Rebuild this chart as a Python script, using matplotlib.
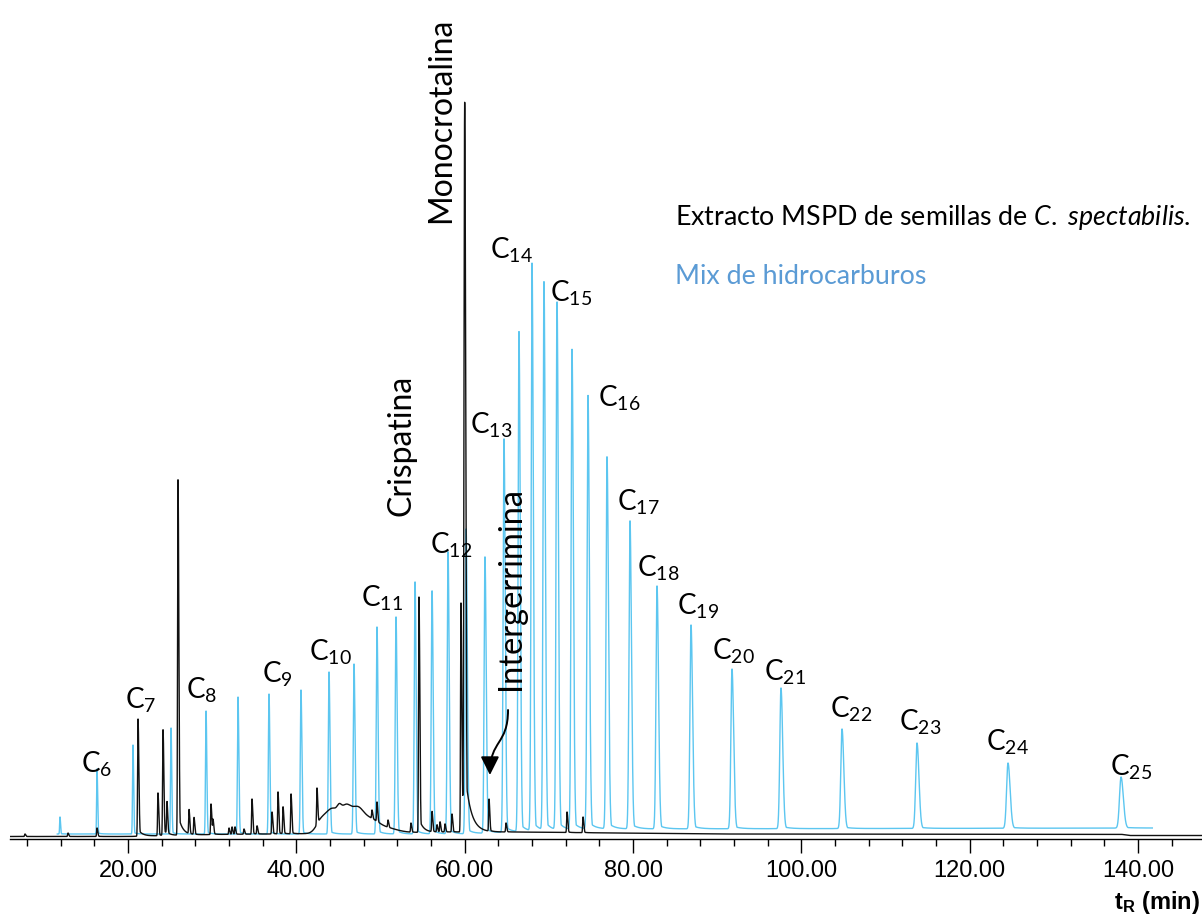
import numpy as np
import matplotlib.pyplot as plt
from matplotlib.patches import FancyArrowPatch
from matplotlib.path import Path

plt.rcParams['font.family'] = ['Lato', 'DejaVu Sans']
plt.rcParams['mathtext.fontset'] = 'custom'
plt.rcParams['mathtext.default'] = 'regular'
plt.rcParams['mathtext.rm'] = 'Lato'
plt.rcParams['mathtext.it'] = 'Lato:italic'

# --- datos leidos del cromatograma (tR en min, altura en unidades arbitrarias) ---
# extracto MSPD (traza negra)
black_t = [7.76, 12.87, 16.32, 21.19, 23.56, 24.16, 24.63, 25.94, 27.25, 27.84,
           29.86, 30.10, 32.00, 32.36, 32.71, 33.78, 34.73, 35.33, 37.11, 37.82,
           38.42, 39.37, 42.45, 48.99, 49.58, 50.89, 53.62, 54.57, 56.12, 56.71,
           57.07, 57.66, 58.49, 59.56, 60.00, 62.89, 64.91, 72.16, 74.06]
black_apex = [5, 6, 11, 120, 46, 109, 35, 359, 28, 21,
              35, 19, 11, 12, 12, 10, 40, 13, 27, 47,
              32, 45, 51, 29, 37, 19, 16, 242, 27, 14,
              17, 15, 25, 236, 731, 39, 16, 27, 22]
black_base_t = [6.0, 20.0, 30.0, 50.0, 58.0, 66.0, 90.0, 138.0, 139.0, 147.6]
black_base_h = [2.5, 2.5, 4.5, 6.0, 7.0, 7.0, 5.0, 4.7, 3.5, 3.5]
# joroba entre 42 y 51 min
hump_t = [42.9, 44.3, 45.1, 45.9, 47.2, 48.6, 50.5]
hump_h = [10, 24, 6, 22, 20, 12, 5]
hump_width = [0.6, 0.8, 0.25, 0.6, 0.7, 1.0, 1.4]

# mezcla de hidrocarburos (traza azul)
blue_t = [11.92, 16.32, 20.59, 25.11, 29.27, 33.07, 36.75, 40.55, 43.88, 46.85,
          49.58, 51.84, 54.10, 56.12, 58.02, 60.17, 62.41, 64.67, 66.45, 68.00,
          69.42, 70.97, 72.75, 74.65, 76.91, 79.64, 82.85, 86.89, 91.76, 97.58,
          104.83, 113.74, 124.55, 137.98]
blue_apex = [22, 70, 94, 111, 128, 142, 145, 149, 167, 175,
             212, 222, 257, 248, 287, 310, 282, 400, 507, 575,
             556, 536, 489, 443, 382, 318, 253, 214, 170, 151,
             110, 96, 76, 62]
blue_base_t = [11.6, 60.0, 66.0, 76.0, 141.7]
blue_base_h = [5.0, 5.0, 7.0, 10.0, 11.0]

# etiquetas de los n-alcanos
alk_labels = ['C$_{6}$', 'C$_{7}$', 'C$_{8}$', 'C$_{9}$', 'C$_{10}$', 'C$_{11}$',
              'C$_{12}$', 'C$_{13}$', 'C$_{14}$', 'C$_{15}$', 'C$_{16}$', 'C$_{17}$',
              'C$_{18}$', 'C$_{19}$', 'C$_{20}$', 'C$_{21}$', 'C$_{22}$', 'C$_{23}$',
              'C$_{24}$', 'C$_{25}$']
alk_x = [16.32, 21.54, 28.79, 37.70, 44.0, 50.18, 58.37, 63.13, 65.50, 72.63,
         78.33, 80.59, 82.97, 87.72, 91.88, 98.06, 105.9, 114.09, 124.43, 139.16]
alk_y = [75, 139, 149, 165, 187, 241, 294, 414, 589, 546,
         441, 337, 271, 233, 188, 167, 130, 117, 97, 72]

xticks = [20, 40, 60, 80, 100, 120, 140]


def peak(t, t0, h, s, k=2.0, tail=0.04, tau=0.4):
    """Pico gaussiano asimetrico con cola exponencial"""
    d = t - t0
    g = np.exp(-0.5 * (d / np.where(d < 0, s, s * k)) ** 2)
    e = np.where(d > 0, tail * np.exp(-np.clip(d, 0, None) / tau), 0.0)
    return h * np.maximum(g, e)


# traza negra
tb = np.arange(6.0, 147.6, 0.004)
bg_black = np.interp(tb, black_base_t, black_base_h)
for t0, h, s in zip(hump_t, hump_h, hump_width):
    bg_black = bg_black + h * np.exp(-0.5 * ((tb - t0) / s) ** 2)
yb = bg_black.copy()
for t0, a in zip(black_t, black_apex):
    h = max(a - np.interp(t0, tb, bg_black), 0)
    if a > 500:
        yb += peak(tb, t0, h, 0.08, 1.5, 0.08, 0.7)
    elif a > 100:
        yb += peak(tb, t0, h, 0.05, 2.0, 0.06, 0.5)
    else:
        yb += peak(tb, t0, h, 0.045, 2.0, 0.04, 0.3)

# traza azul
tz = np.arange(11.6, 141.7, 0.004)
yz = np.interp(tz, blue_base_t, blue_base_h)
for t0, a in zip(blue_t, blue_apex):
    h = a - np.interp(t0, blue_base_t, blue_base_h)
    s = 0.03 + 0.0011 * t0
    yz += peak(tz, t0, h, s, 1.5, 0.02, 0.3 + 0.005 * t0)

fig = plt.figure(figsize=(12.02, 9.15), dpi=100)
ax = fig.add_axes([10 / 1202, 76 / 915, 1192 / 1202, 839 / 915])

ax.plot(tz, yz, color='#5CC6F0', lw=1.0, zorder=2)
ax.plot(tb, yb, color='#111111', lw=1.0, zorder=3)

ax.set_xlim(5.98, 147.6)
ax.set_ylim(0, 839)
for sp in ['top', 'right', 'left']:
    ax.spines[sp].set_visible(False)
ax.spines['bottom'].set_linewidth(1.0)
ax.set_yticks([])
ax.set_xticks(xticks)
ax.set_xticklabels(['%.2f' % v for v in xticks], fontfamily='Liberation Sans', fontsize=17)
ax.set_xticks(np.arange(8, 148, 4), minor=True)
ax.tick_params(axis='x', which='major', length=10, width=1.0, pad=5)
ax.tick_params(axis='x', which='minor', length=5, width=1.0)

# etiquetas de alcanos
for lab, x, y in zip(alk_labels, alk_x, alk_y):
    ax.text(x, y, lab, fontsize=20, ha='center', va='center')

# compuestos identificados
ax.text(57.19, 719, 'Monocrotalina', rotation=90, fontsize=23, ha='center', va='center')
ax.text(52.55, 394, 'Crispatina', rotation=90, fontsize=23, ha='center', va='center')
ax.text(65.50, 251, 'Intergerrimina', rotation=90, fontsize=23.5, ha='center', va='center')

# flecha hacia intergerrimina
verts = [(65.15, 129), (65.15, 94), (63.0, 99), (63.0, 64)]
path = Path(verts, [Path.MOVETO, Path.CURVE4, Path.CURVE4, Path.CURVE4])
arrow = FancyArrowPatch(path=path, arrowstyle='-|>,head_length=0.7,head_width=0.35',
                        mutation_scale=16, lw=1.4, color='black', zorder=4)
ax.add_patch(arrow)

# leyenda
ax.text(84.99, 621, r'Extracto MSPD de semillas de $\mathit{C.}$ $\mathit{spectabilis.}$',
        fontsize=19.3, ha='left', va='center')
ax.text(84.99, 563, 'Mix de hidrocarburos', color='#5B9BD5', fontsize=19.3,
        ha='left', va='center')

fig.text(1200 / 1202, 1 - 903 / 915, 't$_R$ (min)', fontfamily='Liberation Sans',
         fontweight='bold', fontsize=17, ha='right', va='center')

fig.savefig('out.png', dpi=100)
